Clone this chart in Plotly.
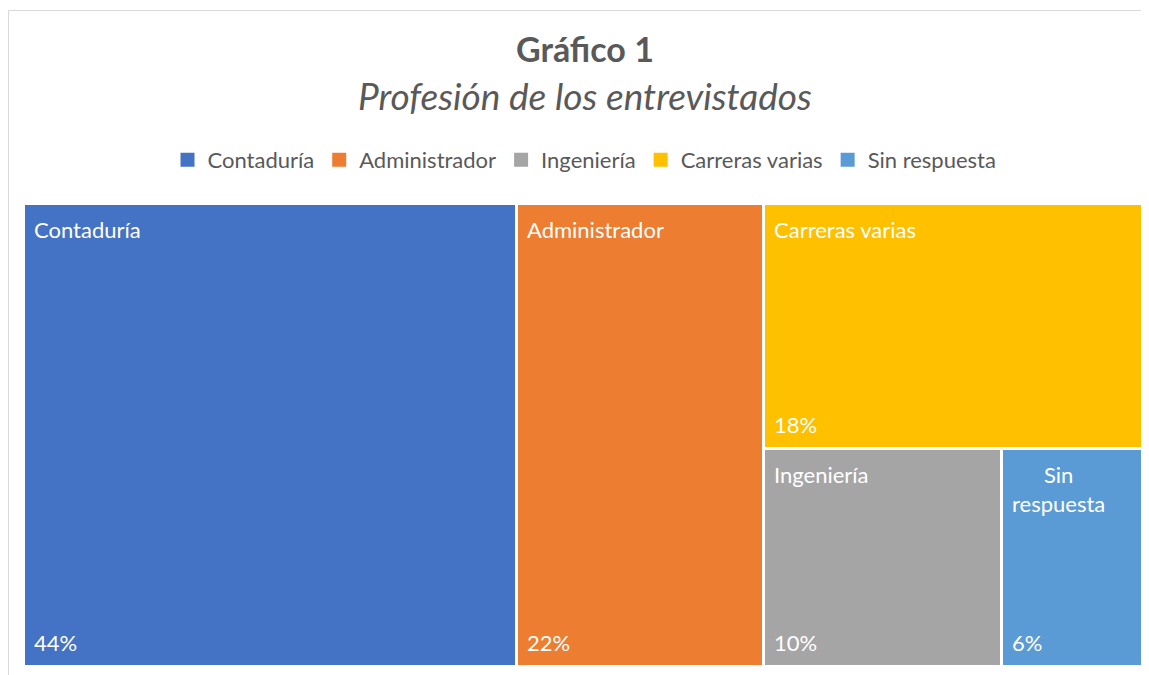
import plotly.graph_objects as go

# ---- data ----
categories = ["Contaduría", "Administrador", "Ingeniería", "Carreras varias", "Sin respuesta"]
values = [44, 22, 10, 18, 6]
colors = ["#4472C4", "#ED7D31", "#A5A5A5", "#FFC000", "#5B9BD5"]
label_texts = ["Contaduría", "Administrador", "Ingeniería", "Carreras varias", "Sin<br>respuesta"]
title_text = "Gráfico 1"
subtitle_text = "Profesión de los entrevistados"

# ---- figure geometry ----
FIG_W, FIG_H = 1149, 675
OFF = 8  # page body margin
M_L, M_R, M_T, M_B = 16, 12, 196, 16
PW = FIG_W - M_L - M_R
PH = FIG_H - M_T - M_B
FONT = "Lato"
TXT = "#595959"


def worst(row, side):
    s = sum(row)
    return max(max(side * side * r / (s * s), s * s / (side * side * r)) for r in row)


def squarify(vals, W, H):
    """Squarified treemap in a W x H box (y measured from top). Returns rects."""
    total = float(sum(vals))
    areas = [v / total * W * H for v in vals]
    x, y, w, h = 0.0, 0.0, float(W), float(H)
    rects = []
    i = 0
    while i < len(areas):
        side = min(w, h)
        row = [areas[i]]
        j = i + 1
        while j < len(areas) and worst(row + [areas[j]], side) <= worst(row, side):
            row.append(areas[j])
            j += 1
        s = sum(row)
        if w >= h:
            cw = s / h
            yy = y
            for a in row:
                rh = a / cw
                rects.append((x, yy, cw, rh))
                yy += rh
            x += cw
            w -= cw
        else:
            rh = s / w
            xx = x
            for a in row:
                rw = a / rh
                rects.append((xx, y, rw, rh))
                xx += rw
            y += rh
            h -= rh
        i = j
    return rects


def clamp(v):
    return min(100.0, max(0.0, round(v, 6)))


order = sorted(range(len(values)), key=lambda k: -values[k])
rects_sorted = squarify([values[k] for k in order], PW, PH)
rects = {}
for k, r in zip(order, rects_sorted):
    x0, yt, rw, rh = r
    dx0 = clamp(x0 / PW * 100)
    dx1 = clamp((x0 + rw) / PW * 100)
    dy0 = clamp(100 - (yt + rh) / PH * 100)
    dy1 = clamp(100 - yt / PH * 100)
    rects[k] = (dx0, dx1 - dx0, dy0, dy1 - dy0)

total = sum(values)
fig = go.Figure()
for k in range(len(categories)):
    dx0, dw, dy0, dh = rects[k]
    fig.add_trace(go.Bar(
        x=[dx0 + dw / 2], y=[dh], base=[dy0], width=[dw],
        name=categories[k], showlegend=False,
        marker=dict(color=colors[k], line=dict(color="white", width=3)),
        hoverinfo="name",
    ))
# legend entries (square swatches)
for k in range(len(categories)):
    fig.add_trace(go.Scatter(
        x=[None], y=[None], mode="markers", name=categories[k],
        marker=dict(symbol="square", size=14, color=colors[k]),
    ))

annotations = []
for k in range(len(categories)):
    dx0, dw, dy0, dh = rects[k]
    annotations.append(dict(
        x=dx0, y=dy0 + dh, xref="x", yref="y", xanchor="left", yanchor="top",
        xshift=8, yshift=-10, text=label_texts[k], showarrow=False, align="center",
        font=dict(family=FONT, size=22, color="white"),
    ))
    annotations.append(dict(
        x=dx0, y=dy0, xref="x", yref="y", xanchor="left", yanchor="bottom",
        xshift=8, yshift=9, text=f"{round(values[k] / total * 100)}%", showarrow=False,
        font=dict(family=FONT, size=22, color="white"),
    ))


def py2paper(py):
    return (FIG_H - M_B - (py - OFF)) / PH


def px2paper(px):
    return ((px - OFF) - M_L) / PW


annotations.append(dict(
    x=0.5, y=py2paper(48), xref="paper", yref="paper", xanchor="center", yanchor="middle",
    text=f"<b>{title_text}</b>", showarrow=False, font=dict(family=FONT, size=34, color=TXT),
))
annotations.append(dict(
    x=0.5, y=py2paper(95), xref="paper", yref="paper", xanchor="center", yanchor="middle",
    text=f"<i>{subtitle_text}</i>", showarrow=False, font=dict(family=FONT, size=37, color=TXT),
))

fig.update_layout(
    width=FIG_W, height=FIG_H,
    margin=dict(l=M_L, r=M_R, t=M_T, b=M_B),
    paper_bgcolor="white", plot_bgcolor="white",
    barmode="overlay", bargap=0,
    xaxis=dict(range=[0, 100], visible=False, fixedrange=True),
    yaxis=dict(range=[0, 100], visible=False, fixedrange=True),
    showlegend=True,
    legend=dict(orientation="h", x=0.5, xanchor="center", y=py2paper(160), yanchor="middle",
                font=dict(family=FONT, size=22, color=TXT), itemclick=False, traceorder="normal",
                itemwidth=30),
    annotations=annotations,
    shapes=[dict(type="rect", xref="paper", yref="paper",
                 x0=px2paper(8.5), x1=px2paper(1200), y0=py2paper(10.5), y1=py2paper(700),
                 line=dict(color="#D9D9D9", width=1), fillcolor="rgba(0,0,0,0)", layer="below")],
)

fig.write_html("out.html")
